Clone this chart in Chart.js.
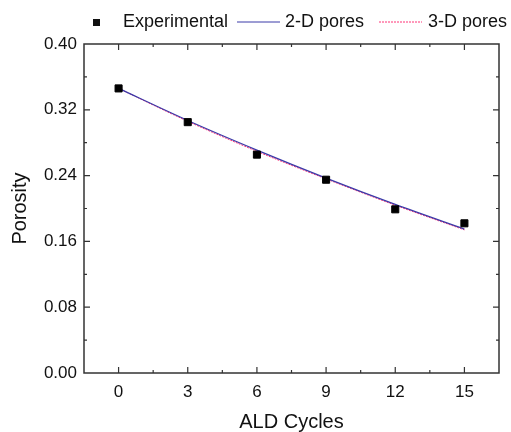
<!DOCTYPE html>
<html>
<head>
<meta charset="utf-8">
<script src="https://cdn.jsdelivr.net/npm/chart.js@4"></script>
<style>
  html, body { margin: 0; padding: 0; background: #fff; }
  #wrap { width: 511px; height: 432px; position: relative; }
</style>
</head>
<body>
<div id="wrap"><canvas id="chart-porosity"></canvas></div>
<script>
const cycles = [0, 3, 6, 9, 12, 15];
const experimental = [0.346, 0.305, 0.2655, 0.235, 0.199, 0.182];
const pores2D = [0.346, 0.307, 0.271, 0.237, 0.205, 0.175];
const pores3D = [0.346, 0.306, 0.2695, 0.236, 0.204, 0.174];
const xTicks = [0, 3, 6, 9, 12, 15];
const yTicks = [0, 0.08, 0.16, 0.24, 0.32, 0.40];

const font = 'Liberation Sans, Arial, sans-serif';
const toXY = (ys) => cycles.map((c, i) => ({ x: c, y: ys[i] }));

// axis frame with inward major/minor ticks on all four sides
const frame = {
    id: 'frame',
    afterDatasetsDraw(chart) {
        const { ctx, chartArea: a, scales: { x, y } } = chart;
        ctx.save();
        ctx.strokeStyle = '#333';
        ctx.lineWidth = 1.5;
        ctx.strokeRect(a.left, a.top, a.right - a.left, a.bottom - a.top);
        ctx.lineWidth = 1.2;
        ctx.beginPath();
        for (let v = 0; v <= 15; v += 1.5) {
            const px = x.getPixelForValue(v);
            const len = (v % 3 === 0) ? 6 : 3;
            ctx.moveTo(px, a.bottom); ctx.lineTo(px, a.bottom - len);
            ctx.moveTo(px, a.top); ctx.lineTo(px, a.top + len);
        }
        for (let i = 1; i < 10; i++) {
            const py = y.getPixelForValue(i * 0.04);
            const len = (i % 2 === 0) ? 6 : 3;
            ctx.moveTo(a.left, py); ctx.lineTo(a.left + len, py);
            ctx.moveTo(a.right, py); ctx.lineTo(a.right - len, py);
        }
        ctx.stroke();
        ctx.restore();
    }
};

// legend across the top
const topLegend = {
    id: 'topLegend',
    afterDraw(chart) {
        const ctx = chart.ctx;
        const ds = chart.data.datasets;
        const yc = 22;
        ctx.save();
        ctx.font = '18px ' + font;
        ctx.fillStyle = '#111';
        ctx.textBaseline = 'middle';
        // Experimental
        ctx.fillRect(93, yc - 3, 7, 7);
        ctx.fillText(ds[0].label, 123, yc);
        // 2-D pores
        ctx.strokeStyle = ds[1].borderColor;
        ctx.lineWidth = 1;
        ctx.beginPath(); ctx.moveTo(237, yc); ctx.lineTo(280, yc); ctx.stroke();
        ctx.fillText(ds[1].label, 285, yc);
        // 3-D pores
        ctx.strokeStyle = ds[2].borderColor;
        ctx.setLineDash(ds[2].borderDash);
        ctx.beginPath(); ctx.moveTo(379, yc); ctx.lineTo(422, yc); ctx.stroke();
        ctx.setLineDash([]);
        ctx.fillText(ds[2].label, 428, yc);
        ctx.restore();
    }
};

const data = {
    datasets: [{
        label: 'Experimental',
        type: 'scatter',
        data: toXY(experimental),
        pointStyle: 'rect',
        pointRadius: 5,
        backgroundColor: '#000',
        borderColor: '#000',
        showLine: false,
        order: 0
    }, {
        label: '2-D pores',
        type: 'line',
        data: toXY(pores2D),
        borderColor: '#3a3aa8',
        borderWidth: 1.2,
        pointRadius: 0,
        tension: 0.3,
        fill: false,
        order: 1
    }, {
        label: '3-D pores',
        type: 'line',
        data: toXY(pores3D),
        borderColor: '#ff3377',
        borderWidth: 1,
        borderDash: [2, 1],
        pointRadius: 0,
        tension: 0.3,
        fill: false,
        order: 2
    }]
};

const config = {
    type: 'scatter',
    data: data,
    options: {
        responsive: true,
        maintainAspectRatio: false,
        animation: false,
        layout: { padding: { top: 44, right: 12, left: 0, bottom: 0 } },
        plugins: {
            legend: { display: false },
            tooltip: { enabled: false }
        },
        scales: {
            x: {
                type: 'linear',
                min: -1.5,
                max: 16.5,
                afterBuildTicks: s => { s.ticks = xTicks.map(v => ({ value: v })); },
                afterFit: s => { s.height = 59; },
                grid: { display: false, drawTicks: false },
                border: { display: false },
                ticks: { color: '#111', font: { family: font, size: 17 }, padding: 9 },
                title: { display: true, text: 'ALD Cycles', color: '#111', font: { family: font, size: 20, lineHeight: 1 }, padding: { top: 0, bottom: 0 } }
            },
            y: {
                min: 0,
                max: 0.4,
                afterBuildTicks: s => { s.ticks = yTicks.map(v => ({ value: v })); },
                afterFit: s => { s.width = 84; },
                grid: { display: false, drawTicks: false },
                border: { display: false },
                ticks: { color: '#111', font: { family: font, size: 17 }, padding: 7, callback: v => v.toFixed(2) },
                title: { display: true, text: 'Porosity', color: '#111', font: { family: font, size: 20, lineHeight: 1 }, padding: { top: 10, bottom: 0 } }
            }
        }
    },
    plugins: [frame, topLegend]
};

const myChart = new Chart(
    document.getElementById('chart-porosity'),
    config
);
</script>
</body>
</html>
